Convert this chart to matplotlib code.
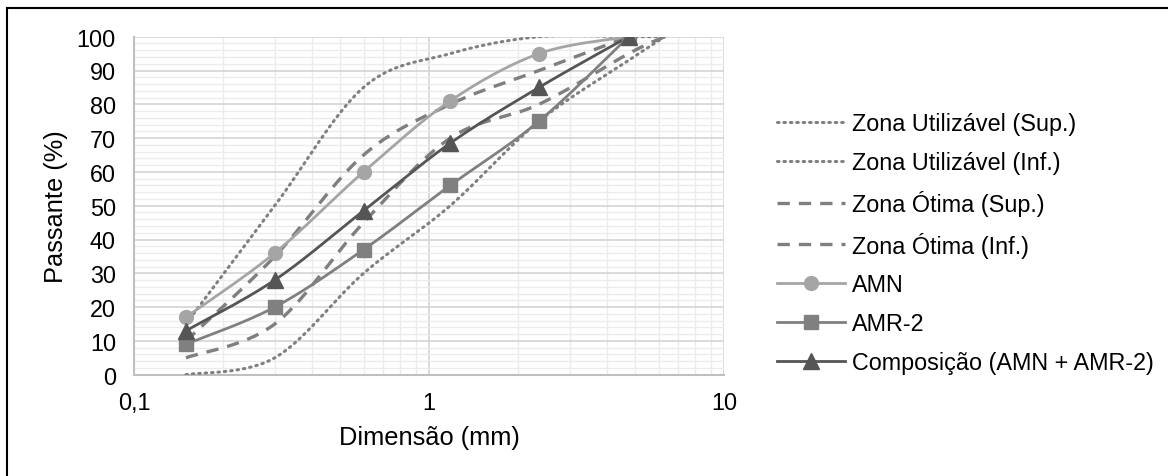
import numpy as np
import matplotlib
matplotlib.use("Agg")
import matplotlib.pyplot as plt
from matplotlib.lines import Line2D
from matplotlib.ticker import FixedLocator, NullFormatter, MultipleLocator

plt.rcParams['font.family'] = ['Liberation Sans', 'DejaVu Sans']

# ---- data ----
sieves = [0.15, 0.3, 0.6, 1.18, 2.36, 4.75]
zone_sieves = [0.15, 0.3, 0.6, 1.18, 2.36, 4.75, 6.3]
util_sup = [15, 50, 85, 95, 100, 100, 100]
util_inf = [0, 5, 30, 50, 75, 93, 100]
otima_sup = [10, 35, 65, 80, 90, 100]
otima_inf = [5, 15, 45, 70, 80, 95, 100]
amn = [17, 36, 60, 81, 95, 100]
amr2 = [9, 20, 37, 56, 75, 100]
comp = [13, 28, 48.5, 68.5, 85, 100]

x_ticks = [0.1, 1, 10]
x_ticklabels = ["0,1", "1", "10"]


def smooth(xs, ys, n=30):
    """Excel-like smoothed line (Catmull-Rom Bezier in log-x space)."""
    u = np.log10(np.asarray(xs, float))
    v = np.asarray(ys, float)
    P = np.column_stack([u, v])
    m = len(P)
    out = [P[0]]
    for i in range(m - 1):
        p0 = P[i - 1] if i > 0 else P[i]
        p1 = P[i]
        p2 = P[i + 1]
        p3 = P[i + 2] if i + 2 < m else P[i + 1]
        c1 = p1 + (p2 - p0) / 6.0
        c2 = p2 - (p3 - p1) / 6.0
        t = np.linspace(0, 1, n)[1:, None]
        seg = ((1 - t) ** 3) * p1 + 3 * ((1 - t) ** 2) * t * c1 + 3 * (1 - t) * t ** 2 * c2 + t ** 3 * p2
        out.extend(seg)
    out = np.array(out)
    return 10 ** out[:, 0], out[:, 1]


W, H = 1168, 477
fig = plt.figure(figsize=(W / 100, H / 100), dpi=100)
ax = fig.add_axes([134 / W, 1 - 375.7 / H, (724 - 134) / W, (375.7 - 37.7) / H])

fs = 16.8
fs_title = 18.3
dot_col = '#808080'
dash_col = '#7f7f7f'
c_amn = '#a5a5a5'
c_amr = '#808080'
c_comp = '#555555'
lw = 2.0

dot_ls = (0, (0.5, 1.6))
dash_ls = (0, (3.7, 2.7))

handles = []
sx, sy = smooth(zone_sieves, util_sup)
ax.plot(sx, sy, color=dot_col, lw=2.2, ls=dot_ls, dash_capstyle='round', zorder=3)
handles.append(Line2D([], [], color=dot_col, lw=2.2, ls=dot_ls, dash_capstyle='round'))
sx, sy = smooth(zone_sieves, util_inf)
ax.plot(sx, sy, color=dot_col, lw=2.2, ls=dot_ls, dash_capstyle='round', zorder=3)
handles.append(Line2D([], [], color=dot_col, lw=2.2, ls=dot_ls, dash_capstyle='round'))
sx, sy = smooth(sieves, otima_sup)
ax.plot(sx, sy, color=dash_col, lw=2.4, ls=dash_ls, zorder=3)
handles.append(Line2D([], [], color=dash_col, lw=2.4, ls=dash_ls))
sx, sy = smooth(zone_sieves, otima_inf)
ax.plot(sx, sy, color=dash_col, lw=2.4, ls=dash_ls, zorder=3)
handles.append(Line2D([], [], color=dash_col, lw=2.4, ls=dash_ls))

for ys, col, mk, ms in [(amn, c_amn, 'o', 10), (amr2, c_amr, 's', 10), (comp, c_comp, '^', 11)]:
    sx, sy = smooth(sieves, ys)
    ax.plot(sx, sy, color=col, lw=lw, zorder=4)
    ax.plot(sieves, ys, ls='none', marker=mk, ms=ms, color=col, mec=col, zorder=5)
    handles.append(Line2D([], [], color=col, lw=lw, marker=mk, ms=ms, mec=col))

labels = ["Zona Utilizável (Sup.)", "Zona Utilizável (Inf.)", "Zona Ótima (Sup.)",
          "Zona Ótima (Inf.)", "AMN", "AMR-2", "Composição (AMN + AMR-2)"]

ax.set_xscale('log')
ax.set_xlim(0.1, 10)
ax.set_ylim(0, 100)
ax.xaxis.set_major_locator(FixedLocator(x_ticks))
ax.set_xticklabels(x_ticklabels)
ax.xaxis.set_minor_locator(FixedLocator([k * d for d in (0.1, 1) for k in range(2, 10)]))
ax.xaxis.set_minor_formatter(NullFormatter())
ax.yaxis.set_major_locator(MultipleLocator(10))
ax.yaxis.set_minor_locator(MultipleLocator(2))

ax.grid(True, which='major', color='#d4d4d4', lw=1.2)
ax.grid(True, which='minor', color='#ececec', lw=1.0)
ax.set_axisbelow(True)
ax.tick_params(which='both', length=0)
ax.tick_params(axis='y', labelsize=fs, pad=13)
ax.tick_params(axis='x', labelsize=fs, pad=12)
for s in ['top', 'right']:
    ax.spines[s].set_visible(False)
for s in ['left', 'bottom']:
    ax.spines[s].set_color('#bfbfbf')
    ax.spines[s].set_linewidth(1.5)

ax.set_xlabel("Dimensão (mm)", fontsize=fs_title, labelpad=8)
ax.set_ylabel("Passante (%)", fontsize=fs_title, labelpad=6)

fig.legend(handles, labels, loc='upper left', bbox_to_anchor=(777 / W, 1 - 113 / H),
           frameon=False, fontsize=fs, handlelength=2.9, handletextpad=0.3,
           labelspacing=0.68, borderpad=0, borderaxespad=0)

# figure frame (top and left only)
fig.add_artist(Line2D([7 / W, 1], [1 - 9 / H, 1 - 9 / H], color='black', lw=1.5, transform=fig.transFigure))
fig.add_artist(Line2D([7 / W, 7 / W], [0, 1 - 9 / H], color='black', lw=1.5, transform=fig.transFigure))

fig.savefig("out.png", dpi=100)
